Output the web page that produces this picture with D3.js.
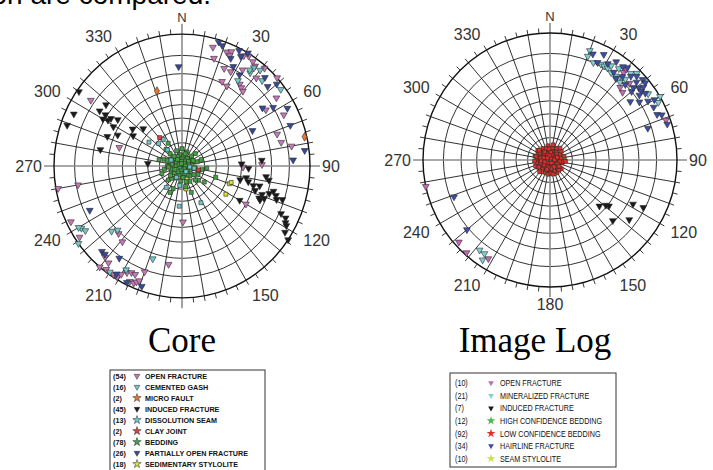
<!DOCTYPE html>
<html>
<head>
<meta charset="utf-8">
<script src="https://cdn.jsdelivr.net/npm/d3@7"></script>
<style>
  body { margin: 0; background: #fff; }
  svg { display: block; }
</style>
</head>
<body>
<svg id="chart" width="713" height="470"></svg>
<script>
// ---------- Core: poles as [dip azimuth, dip] ----------
const coreOpenFracture = [[15,86],[22,86],[24,87],[24,85],[30,88],[32,89],[17,81],[35,88],[37,87],[24,78],[28,78],[41,89],[33,82],[41,83],[48,90],[36,75],[38,74],[26,71],[30,70],[40,73],[55,84],[57,76],[64,83],[72,76],[77,77],[80,82],[91,51],[89,64],[305,82],[286,54],[260,89],[260,79],[244,88],[236,88],[224,71],[219,73],[221,85],[218,86],[220,90],[217,89],[213,89],[211,89],[210,87],[208,85],[206,84],[204,84],[205,88],[203,88],[202,87],[201,86],[200,81],[188,74],[179,46],[120,60]];
const coreCementedGash = [[37,86],[40,87],[37,83],[44,84],[34,76],[53,88],[239,85],[237,84],[234,90],[226,70],[215,89],[209,84],[198,73],[240,86],[228,73],[36,84]];
const coreMicroFault = [[77,89],[341,62]];
const coreInduced = [[86,64],[88,50],[305,89],[295,86],[289,87],[303,75],[308,74],[303,71],[300,71],[301,68],[303,67],[305,63],[299,63],[306,51],[313,45],[295,58],[291,64],[301,48],[281,66],[274,30],[103,50],[100,54],[103,56],[105,60],[97,67],[99,69],[120,55],[108,62],[109,67],[111,69],[107,71],[105,73],[107,75],[109,76],[108,79],[112,66],[113,67],[115,81],[116,84],[118,85],[119,86],[122,87],[124,90],[92,55],[104,64]];
const coreDissolution = [[305,35],[313,28],[324,28],[317,19],[184,34],[152,35],[97,7],[207,11],[144,6],[298,11],[100,11],[187,17],[217,23]];
const coreClayJoint = [[321,31],[103,15]];
const coreBedding = [[108,31],[117,16],[152,15],[202,21],[328,23],[95,22],[130,19],[170,18],[225,17],[260,16],[290,17],[315,15],[340,14],[20,13],[45,12],[75,14],[100,12],[140,11],[185,13],[210,12],[240,11],[270,13],[300,12],[350,10],[10,9],[35,8],[60,10],[85,9],[115,8],[150,9],[175,10],[200,8],[230,9],[255,10],[280,9],[310,8],[335,9],[5,6],[30,5],[55,7],[80,6],[105,5],[130,6],[160,7],[190,5],[215,6],[245,7],[275,5],[305,6],[325,7],[355,4],[40,3],[90,3],[140,3],[195,3],[250,2],[300,3],[345,2],[15,11],[65,11],[125,13],[165,14],[220,14],[265,12],[320,11],[0,15],[48,16],[135,17],[250,19],[285,21],[315,20],[205,25],[160,24],[125,24],[100,18],[72,18],[232,13],[290,14]];
const corePartiallyOpen = [[17,89],[27,89],[31,90],[28,81],[48,84],[55,75],[64,63],[87,82],[358,74],[245,77],[224,84],[222,84],[215,81],[199,88],[19,88],[25,84],[29,87],[44,86],[33,79],[50,88],[58,80],[62,86],[70,84],[83,88],[212,88],[206,89]];
const coreStylolite = [[110,43],[108,44],[122,44],[170,20],[158,12],[20,6],[75,4],[140,8],[200,10],[260,7],[320,5],[45,9],[95,11],[180,6],[235,4],[290,9],[350,7],[120,3]];

// ---------- Image log ----------
const imgOpenFracture = [[40,84],[40,86],[46,82],[47,76],[71,88],[258,90],[228,88],[222,89],[212,85],[44,77]];
const imgMineralized = [[20,85],[20,82],[28,81],[30,81],[32,81],[35,80],[38,80],[40,80],[43,82],[43,86],[60,90],[62,88],[45,88],[218,84],[215,84],[214,87],[24,80],[33,83],[37,84],[42,79],[56,86]];
const imgInduced = [[133,56],[129,59],[128,61],[118,73],[117,79],[134,69],[127,76]];
const imgHCBedding = [[40,9],[55,6],[30,12],[70,11],[20,4],[110,8],[200,6],[300,7],[150,5],[85,13],[250,10],[350,9]];
const imgLCBedding = [[0,3],[15,8],[30,12],[45,5],[60,10],[75,13],[90,7],[105,11],[120,4],[135,9],[150,13],[165,6],[180,10],[195,12],[210,5],[225,9],[240,13],[255,7],[270,11],[285,14],[300,6],[315,10],[330,12],[345,8],[8,11],[22,5],[38,9],[52,13],[68,3],[82,10],[98,12],[112,6],[128,13],[142,4],[158,11],[172,8],[188,13],[202,3],[218,11],[232,7],[248,14],[262,4],[278,12],[292,9],[308,14],[322,5],[338,10],[352,13],[5,7],[28,2],[48,8],[63,6],[88,4],[100,9],[118,8],[138,12],[155,3],[176,12],[192,7],[215,13],[228,3],[245,10],[258,12],[272,6],[282,9],[296,12],[305,11],[318,8],[335,6],[350,4],[12,14],[40,14],[70,7],[95,14],[125,10],[148,7],[168,13],[198,9],[222,14],[252,9],[266,14],[276,3],[288,6],[312,13],[328,9],[342,11],[355,10],[265,8],[250,5],[310,3],[238,12],[284,13]];
const imgHairline = [[26,81],[39,79],[40,87],[38,86],[48,85],[49,88],[51,88],[51,84],[53,84],[54,82],[50,80],[54,76],[59,84],[60,87],[67,85],[73,88],[72,78],[249,78],[230,81],[22,84],[27,86],[31,83],[34,86],[36,81],[41,82],[44,85],[46,87],[49,82],[52,86],[55,85],[57,80],[63,85],[68,87],[45,80]];
const imgSeamStylolite = [[200,12],[220,8],[175,9],[160,13],[250,6],[190,4],[135,11],[280,11],[320,13],[100,5]];

// ---------- Legend text ----------
const coreLegendLabels = ["OPEN FRACTURE","CEMENTED GASH","MICRO FAULT","INDUCED FRACTURE","DISSOLUTION SEAM","CLAY JOINT","BEDDING","PARTIALLY OPEN FRACTURE","SEDIMENTARY STYLOLITE"];
const imgLegendLabels = ["OPEN FRACTURE","MINERALIZED FRACTURE","INDUCED FRACTURE","HIGH CONFIDENCE BEDDING","LOW CONFIDENCE BEDDING","HAIRLINE FRACTURE","SEAM STYLOLITE"];

// ---------- Grid definition ----------
const ringDips = [10, 20, 30, 40, 50, 60, 70, 80];
const azimuthLabels = [[0,"N"],[30,"30"],[60,"60"],[90,"90"],[120,"120"],[150,"150"],[180,"180"],[210,"210"],[240,"240"],[270,"270"],[300,"300"],[330,"330"]];

const svg = d3.select("#chart");
const toRad = d => d * Math.PI / 180;

// Heading line, cut by the top edge
svg.append("text")
  .attr("x", 211).attr("y", 4)
  .attr("text-anchor", "end")
  .attr("font-family", "Arial, 'Liberation Sans', sans-serif")
  .attr("font-size", 28)
  .attr("fill", "#000")
  .text("Fracture and bedding orientation are compared.");

function markerPath(shape, size) {
  if (shape === "tri") return d3.symbol().type(d3.symbolTriangle).size(size)();
  if (shape === "square") return d3.symbol().type(d3.symbolSquare).size(size)();
  if (shape === "diamond") return d3.symbol().type(d3.symbolDiamond).size(size)();
  return d3.symbol().type(d3.symbolCircle).size(size)();
}

function drawNet(cx, cy, R, ky, layers, skipLabels) {
  const g = svg.append("g").attr("transform", `translate(${cx},${cy})`);
  // stereographic radius: r = R * tan(dip / 2)
  const rScale = d3.scaleLinear().domain([0, 1]).range([0, R]);
  const radius = dip => rScale(Math.tan(toRad(dip) / 2));
  const pt = (az, r) => { const p = d3.pointRadial(toRad(az), r); return [p[0], p[1] * ky]; };

  const spokes = d3.range(0, 360, 10).filter(a => a % 90 !== 0);
  g.append("g").selectAll("line").data(spokes).join("line")
    .attr("x1", a => pt(a, radius(10))[0])
    .attr("y1", a => pt(a, radius(10))[1])
    .attr("x2", a => pt(a, R)[0])
    .attr("y2", a => pt(a, R)[1])
    .attr("stroke", "#1c1c1c").attr("stroke-width", 0.9);

  g.append("g").selectAll("ellipse").data(ringDips).join("ellipse")
    .attr("rx", radius).attr("ry", d => radius(d) * ky).attr("fill", "none")
    .attr("stroke", "#1c1c1c").attr("stroke-width", 0.9);

  // grey N-S / E-W axes
  g.append("g").selectAll("line").data([0, 90]).join("line")
    .attr("x1", a => pt(a, R + 10)[0])
    .attr("y1", a => pt(a, R + 10)[1])
    .attr("x2", a => pt(a + 180, R + 10)[0])
    .attr("y2", a => pt(a + 180, R + 10)[1])
    .attr("stroke", "#8c8c8c").attr("stroke-width", 1.6);

  g.append("ellipse").attr("rx", R).attr("ry", R * ky).attr("fill", "none")
    .attr("stroke", "#111").attr("stroke-width", 1.4);

  g.append("g").selectAll("line").data(d3.range(0, 360, 5).filter(a => a % 90 !== 0)).join("line")
    .attr("x1", a => pt(a, R)[0])
    .attr("y1", a => pt(a, R)[1])
    .attr("x2", a => pt(a, R + 5)[0])
    .attr("y2", a => pt(a, R + 5)[1])
    .attr("stroke", "#222").attr("stroke-width", 0.9);

  // azimuth labels set just outside the rim
  const capH = 11;
  g.append("g").selectAll("text").data(azimuthLabels.filter(d => !skipLabels.includes(d[0]))).join("text")
    .attr("font-family", "Arial, 'Liberation Sans', sans-serif")
    .attr("font-size", d => d[0] === 0 ? 13 : 16)
    .attr("fill", "#333")
    .attr("text-anchor", d => {
      const s = Math.sin(toRad(d[0]));
      return s > 0.1 ? "start" : s < -0.1 ? "end" : "middle";
    })
    .attr("x", d => pt(d[0], R + 12)[0])
    .attr("y", d => {
      const c = Math.cos(toRad(d[0]));
      const yc = pt(d[0], R + 12)[1] - c * capH / 2;
      return yc + capH / 2;
    })
    .text(d => d[1]);

  layers.forEach(L => {
    g.append("g").selectAll("path").data(L.data).join("path")
      .attr("transform", d => {
        const p = pt(d[0], radius(d[1]));
        return `translate(${p[0]},${p[1]})` + (L.shape === "tri" ? " rotate(180)" : "");
      })
      .attr("d", markerPath(L.shape, L.size))
      .attr("fill", L.color)
      .attr("stroke", "#2a2a2a").attr("stroke-width", 0.6);
  });
}

const C = {
  open: "#c878b8", gash: "#72c9c9", micro: "#e8782e", induced: "#1a1a1a",
  dissolution: "#6fc8d0", clay: "#e23c3c", bedding: "#44a244", partial: "#34489c", stylolite: "#d8e03a"
};
const I = {
  open: "#c46ab4", mineral: "#82d0d0", induced: "#1a1a1a", hc: "#4cb84c",
  lc: "#e0302a", hairline: "#3a4ea8", seam: "#c8e050"
};

drawNet(182, 166, 128, 1.03, [
  { data: coreStylolite, color: C.stylolite, shape: "square", size: 16 },
  { data: coreBedding, color: C.bedding, shape: "square", size: 16 },
  { data: coreDissolution, color: C.dissolution, shape: "square", size: 16 },
  { data: coreClayJoint, color: C.clay, shape: "square", size: 16 },
  { data: coreMicroFault, color: C.micro, shape: "diamond", size: 22 },
  { data: coreOpenFracture, color: C.open, shape: "tri", size: 20 },
  { data: coreCementedGash, color: C.gash, shape: "tri", size: 20 },
  { data: coreInduced, color: C.induced, shape: "tri", size: 20 },
  { data: corePartiallyOpen, color: C.partial, shape: "tri", size: 20 }
], [180]);

drawNet(550, 160, 127, 1, [
  { data: imgHCBedding, color: I.hc, shape: "square", size: 14 },
  { data: imgSeamStylolite, color: I.seam, shape: "square", size: 14 },
  { data: imgLCBedding, color: I.lc, shape: "square", size: 14 },
  { data: imgOpenFracture, color: I.open, shape: "tri", size: 20 },
  { data: imgMineralized, color: I.mineral, shape: "tri", size: 20 },
  { data: imgInduced, color: I.induced, shape: "tri", size: 20 },
  { data: imgHairline, color: I.hairline, shape: "tri", size: 20 }
], []);

// titles
[["Core", 182], ["Image Log", 535]].forEach(([t, x]) => {
  svg.append("text").attr("x", x).attr("y", 352)
    .attr("text-anchor", "middle")
    .attr("font-family", "'Times New Roman', 'Liberation Serif', serif")
    .attr("font-size", 35).attr("fill", "#000").text(t);
});

// legends
function drawLegend(x, y, w, h, rowH, items, opts) {
  const g = svg.append("g").attr("transform", `translate(${x},${y})`);
  g.append("rect").attr("width", w).attr("height", h)
    .attr("fill", "#fff").attr("stroke", "#333").attr("stroke-width", 1);
  const row = g.selectAll("g.row").data(items).join("g")
    .attr("transform", (d, i) => `translate(0,${opts.top + i * rowH})`);
  const txt = sel => sel
    .attr("font-family", "Arial, 'Liberation Sans', sans-serif")
    .attr("font-size", opts.fs).attr("font-weight", opts.weight).attr("fill", "#111");
  row.append("text").attr("transform", `translate(${opts.countX},${opts.fs * 0.36}) scale(${opts.sx},1)`)
    .call(txt).text(d => `(${d.count})`);
  row.append("path")
    .attr("transform", d => `translate(${opts.symX},0)` + (d.shape === "tri" ? " rotate(180)" : ""))
    .attr("d", d => d.shape === "tri" ? markerPath("tri", 14) : d3.symbol().type(d3.symbolStar).size(opts.starSize)())
    .attr("fill", d => d.color)
    .attr("stroke", opts.outline ? "#222" : "none").attr("stroke-width", 0.5);
  row.append("text").attr("transform", `translate(${opts.textX},${opts.fs * 0.36}) scale(${opts.sx},1)`)
    .call(txt).text(d => d.label);
}

const coreLegendItems = [
  { count: coreOpenFracture.length, color: C.open, shape: "tri" },
  { count: coreCementedGash.length, color: C.gash, shape: "tri" },
  { count: coreMicroFault.length, color: C.micro, shape: "star" },
  { count: coreInduced.length, color: C.induced, shape: "tri" },
  { count: coreDissolution.length, color: C.dissolution, shape: "star" },
  { count: coreClayJoint.length, color: C.clay, shape: "star" },
  { count: coreBedding.length, color: C.bedding, shape: "star" },
  { count: corePartiallyOpen.length, color: C.partial, shape: "tri" },
  { count: coreStylolite.length, color: C.stylolite, shape: "star" }
].map((d, i) => ({ ...d, label: coreLegendLabels[i] }));

const imgLegendItems = [
  { count: imgOpenFracture.length, color: I.open, shape: "tri" },
  { count: imgMineralized.length, color: I.mineral, shape: "tri" },
  { count: imgInduced.length, color: I.induced, shape: "tri" },
  { count: imgHCBedding.length, color: I.hc, shape: "star" },
  { count: imgLCBedding.length, color: I.lc, shape: "star" },
  { count: imgHairline.length, color: I.hairline, shape: "tri" },
  { count: imgSeamStylolite.length, color: I.seam, shape: "star" }
].map((d, i) => ({ ...d, label: imgLegendLabels[i] }));

drawLegend(110, 370, 155, 102, 11, coreLegendItems,
  { top: 6, countX: 3, symX: 27, textX: 35, fs: 8, weight: "bold", sx: 0.9, starSize: 22, outline: true });
drawLegend(450, 373, 166, 94, 12.6, imgLegendItems,
  { top: 10, countX: 5, symX: 41, textX: 50, fs: 9, weight: "normal", sx: 0.8, starSize: 24, outline: false });
</script>
</body>
</html>
